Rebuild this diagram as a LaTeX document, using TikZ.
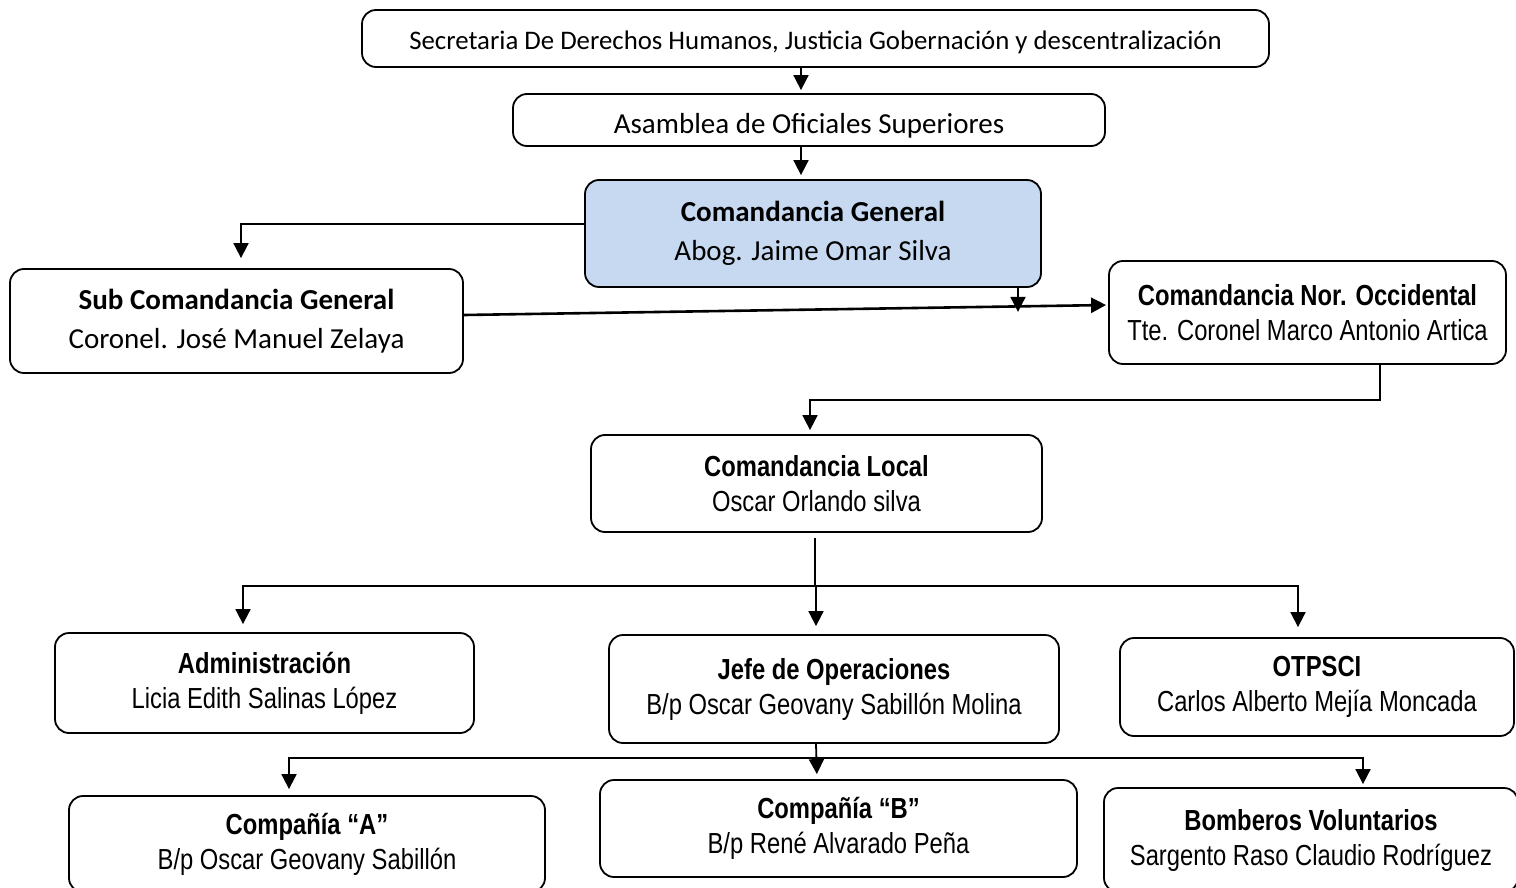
\documentclass[tikz,border=0pt]{standalone}
\usepackage{fontspec}
\setmainfont{Carlito}
\newfontfamily\narrowsans[FakeStretch=0.82]{Liberation Sans}
\usetikzlibrary{arrows.meta}
\definecolor{cgblue}{HTML}{C6D9F1}
\begin{document}
\begin{tikzpicture}[x=1pt,y=-1pt,
  unit/.style={draw, rounded corners=14pt, line width=1.8pt, align=center, inner sep=0pt},
  cal/.style={font=\fontsize{29}{39}\selectfont},
  nar/.style={font=\narrowsans\fontsize{29}{35}\selectfont},
  link/.style={line width=1.8pt},
  arr/.style={line width=1.8pt, -{Triangle[length=15pt,width=15pt]}}]
\useasboundingbox (0,0) rectangle (1516,888);
\node[unit, minimum width=907, minimum height=57, text height=20pt, text depth=6pt, font=\fontsize{26.8}{32}\selectfont] (sec) at (815.5,38.5){\raisebox{-4pt}{Secretaria De Derechos Humanos, Justicia Gobernación y descentralización}};
\node[unit, cal, minimum width=592, minimum height=52, text height=21pt, text depth=7pt] (asam) at (809,120){\raisebox{-7pt}{Asamblea de Oficiales Superiores}};
\node[unit, cal, fill=cgblue, minimum width=456, minimum height=107] (cg) at (813,233.5){\textbf{Comandancia General}\\Abog. Jaime Omar Silva};
\node[unit, cal, minimum width=453, minimum height=104] (sub) at (236.5,321){\textbf{Sub Comandancia General}\\Coronel. José Manuel Zelaya};
\node[unit, nar, minimum width=397, minimum height=103] (noroc) at (1307.5,312.5){\textbf{Comandancia Nor. Occidental}\\Tte. Coronel Marco Antonio Artica};
\node[unit, nar, minimum width=451, minimum height=97] (local) at (816.5,483.5){\textbf{Comandancia Local}\\Oscar Orlando silva};
\node[unit, nar, minimum width=419, minimum height=100] (adm) at (264.5,683){\textbf{Administración}\\Licia Edith Salinas López};
\node[unit, nar, minimum width=450, minimum height=108] (jefe) at (834,689){\textbf{Jefe de Operaciones}\\B/p Oscar Geovany Sabillón Molina};
\node[unit, nar, minimum width=394, minimum height=98] (otp) at (1317,687){\textbf{OTPSCI}\\Carlos Alberto Mejía Moncada};
\node[unit, nar, minimum width=476, minimum height=96] (cia) at (307,844){\textbf{Compañía “A”}\\B/p Oscar Geovany Sabillón};
\node[unit, nar, minimum width=477, minimum height=97] (cib) at (838.5,828.5){\textbf{Compañía “B”}\\B/p René Alvarado Peña};
\node[unit, nar, minimum width=414, minimum height=104] (bomb) at (1311,840){\textbf{Bomberos Voluntarios}\\Sargento Raso Claudio Rodríguez};
\draw[arr, shorten >=3pt] ([xshift=-14.5pt]sec.south) -- ([xshift=-8pt]asam.north);
\draw[arr, shorten >=4pt] ([xshift=-8pt]asam.south) -- ([xshift=-12pt]cg.north);
\draw[arr, shorten >=10pt] ([yshift=9.5pt]cg.west) -| ([xshift=4.5pt]sub.north);
\draw[arr, line width=2.6pt, shorten >=2pt] ([yshift=6pt]sub.east) -- ([yshift=7.5pt]noroc.west);
\coordinate (cgtip) at ([xshift=205pt,yshift=-24pt]cg.south);
\draw[arr] ([xshift=205pt]cg.south) -- (cgtip);
\draw[arr, shorten >=4pt] ([xshift=72.5pt]noroc.south) -- ++(0,35) -| ([xshift=-6.5pt]local.north);
\coordinate (bus1) at ([xshift=-1.5pt,yshift=-53pt]local.south);
\draw[link] ([xshift=-1.5pt,yshift=-5pt]local.south) -- (bus1);
\draw[arr, shorten >=8pt] (bus1) -| ([xshift=-21.5pt]adm.north);
\draw[arr, shorten >=8pt] (bus1) -| ([xshift=-18pt]jefe.north);
\draw[arr, shorten >=10pt] (bus1) -| ([xshift=-19pt]otp.north);
\coordinate (bus2) at ([xshift=-18pt,yshift=-14pt]jefe.south);
\draw[arr, shorten >=5pt] ([xshift=-18pt]jefe.south) -- ([xshift=-21.5pt]cib.north);
\draw[arr, shorten >=6pt] (bus2) -| ([xshift=-18pt]cia.north);
\draw[arr, shorten >=3pt] (bus2) -| ([xshift=52pt]bomb.north);
\end{tikzpicture}
\end{document}
